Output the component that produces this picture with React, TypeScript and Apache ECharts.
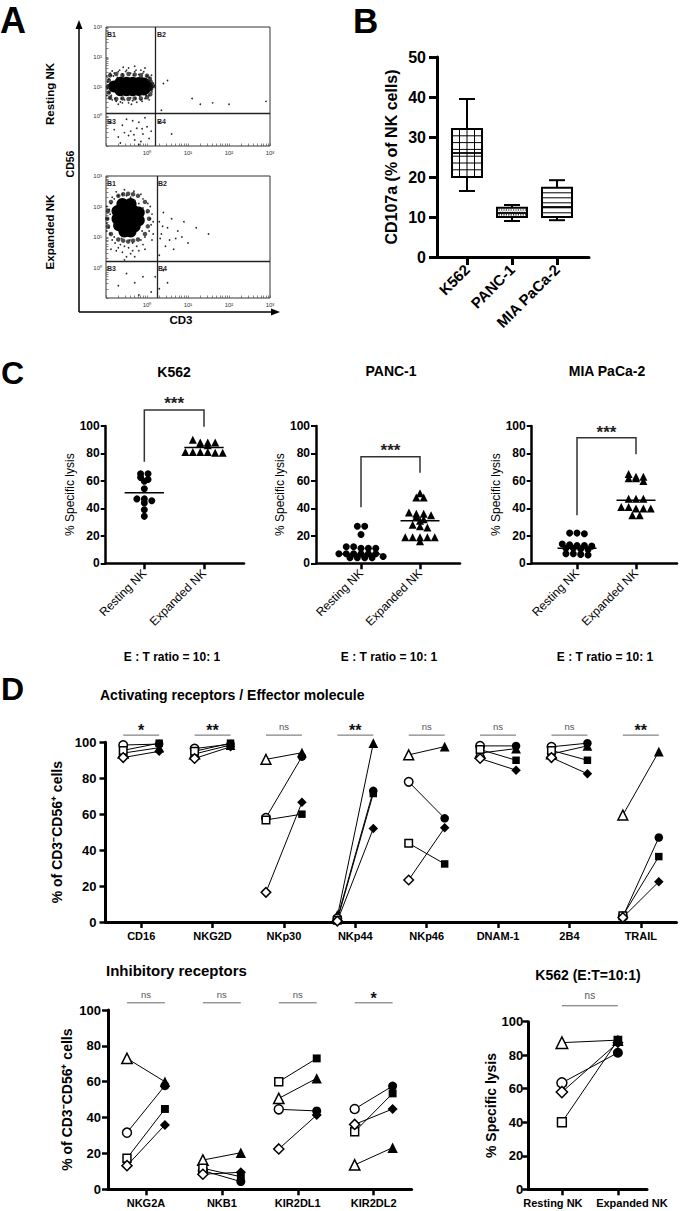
import React, { useEffect, useRef } from 'react';
import * as echarts from 'echarts';

const FONT = '"Liberation Sans", Arial, Helvetica, sans-serif';

// ---------------- Panel A : flow cytometry (log10 units) ----------------
const flowDecades = ['10⁰', '10¹', '10²', '10³'];
const quadrantNames = ['B1', 'B2', 'B3', 'B4'];
const restingGate = [0.2, 0.1];
const expandedGate = [0.24, 0.2];
const restingCore = [
  [-0.8, 1.0], [-0.65, 0.87], [-0.65, 1.13], [-0.5, 0.87], [-0.5, 1.13], [-0.35, 0.87], [-0.35, 1.13],
  [-0.2, 0.88], [-0.2, 1.12], [-0.08, 0.9], [-0.08, 1.1], [0.0, 1.0],
];
const restingEdge = [
  [-0.9, 0.62], [-0.75, 0.58], [-0.6, 0.6], [-0.45, 0.58], [-0.3, 0.6], [-0.15, 0.6], [0.0, 0.64], [0.08, 0.74],
  [-0.9, 1.38], [-0.75, 1.42], [-0.6, 1.38], [-0.45, 1.42], [-0.3, 1.4], [-0.15, 1.38], [0.0, 1.36], [0.07, 1.26],
  [-0.93, 0.8], [-0.95, 1.0], [-0.93, 1.2], [0.1, 0.92], [0.14, 1.04], [0.09, 1.16],
];
const restingEvents = [
  [-0.95, 1.05], [-0.92, 0.8], [-0.93, 1.25], [-0.9, 0.62], [-0.88, 1.38], [-0.85, 0.55], [-0.8, 1.45], [-0.75, 0.5],
  [-0.7, 1.5], [-0.65, 0.48], [-0.6, 1.42], [-0.55, 0.55], [-0.5, 1.55], [-0.45, 0.45], [-0.4, 1.45], [-0.35, 0.52],
  [-0.3, 1.5], [-0.25, 0.47], [-0.2, 1.4], [-0.15, 0.55], [-0.1, 1.45], [-0.05, 0.6], [0.0, 1.35], [0.05, 0.7],
  [0.06, 1.3], [0.12, 0.82], [0.15, 1.12], [0.17, 0.97], [-0.97, 0.95], [-0.96, 1.15], [-0.82, 1.35], [-0.78, 0.6],
  [-0.62, 0.6], [-0.58, 1.35], [-0.33, 1.38], [-0.28, 0.6], [-0.12, 1.3], [-0.02, 0.7], [0.02, 1.2], [-0.9, 1.45],
  [-0.45, 1.62], [-0.7, 0.4], [0.18, 1.02], [-0.15, 1.55], [-0.87, 0.7], [-0.72, 1.3], [-0.4, 0.62], [-0.18, 0.68],
  [-0.52, 1.5], [-0.27, 1.55], [-0.08, 1.5], [-0.67, 1.55], [-0.85, 1.52], [-0.6, 0.45], [-0.38, 0.4], [-0.12, 0.5],
  [0.05, 0.55], [0.11, 1.38], [-0.98, 0.7], [-0.98, 1.35], [-0.05, 1.62], [-0.3, 1.68], [-0.58, 1.65],
  [-0.6, -0.3], [-0.4, -0.5], [-0.2, -0.2], [-0.7, -0.7], [-0.3, -0.8], [-0.1, -0.6], [0.0, -0.35], [-0.5, -0.1],
  [-0.25, -0.4], [-0.8, -0.45], [-0.15, -0.85], [-0.45, -0.65], [0.1, -0.5], [-0.35, -0.15], [-0.05, -0.05],
  [0.05, -0.75], [-0.55, -0.55], [-0.9, -0.2], [-0.65, -0.9], [-0.2, -0.95], [-0.32, -0.62], [-0.12, -0.42],
  [0.4, 1.1], [0.5, 1.2], [1.1, 0.6], [1.3, 0.4], [1.6, 0.45], [2.0, 0.4], [2.9, 0.5], [0.3, -0.2], [0.6, -0.6], [0.35, 0.2],
];
const expandedCore = [
  [-0.6, 2.08], [-0.4, 2.08], [-0.72, 1.85], [-0.52, 1.85], [-0.32, 1.85], [-0.2, 1.8], [-0.72, 1.6], [-0.52, 1.6],
  [-0.32, 1.6], [-0.2, 1.55], [-0.68, 1.38], [-0.48, 1.35], [-0.3, 1.35], [-0.55, 1.18], [-0.4, 1.18],
];
const expandedEdge = [
  [-0.46, 2.42], [-0.7, 2.35], [-0.22, 2.35], [-0.88, 2.15], [-0.05, 2.15], [-0.95, 1.85], [0.02, 1.85],
  [-0.97, 1.6], [0.05, 1.6], [-0.95, 1.35], [0.02, 1.35], [-0.88, 1.1], [-0.05, 1.1], [-0.7, 0.92],
  [-0.22, 0.92], [-0.46, 0.85], [-0.58, 2.4], [-0.34, 2.4], [-0.58, 0.88], [-0.34, 0.88],
];
const expandedEvents = [
  [-0.95, 1.6], [-0.93, 1.3], [-0.92, 1.9], [-0.9, 1.1], [-0.88, 2.1], [-0.85, 0.9], [-0.8, 2.25], [-0.78, 0.8],
  [-0.7, 2.35], [-0.65, 0.75], [-0.6, 2.4], [-0.55, 0.7], [-0.5, 2.35], [-0.45, 0.65], [-0.4, 2.3], [-0.35, 0.8],
  [-0.3, 2.2], [-0.25, 0.7], [-0.2, 2.1], [-0.15, 0.9], [-0.1, 1.95], [-0.05, 1.0], [0.0, 1.8], [0.05, 1.2],
  [0.08, 1.6], [0.1, 1.4], [-0.98, 1.45], [-0.6, 0.5], [-0.4, 0.45], [-0.2, 0.55], [-0.75, 0.55], [-0.3, 0.35],
  [0.15, 1.1], [0.12, 1.75], [-0.05, 0.6], [-0.5, 0.35], [-0.85, 2.3], [0.02, 2.1], [-0.9, 1.75], [-0.12, 1.2],
  [-0.8, 1.0], [-0.1, 2.25], [-0.42, 0.9], [-0.62, 0.95], [-0.55, 2.55], [-0.32, 2.5], [-0.75, 2.48],
  [-0.15, 2.4], [0.08, 2.0], [0.15, 1.5], [-0.98, 2.0], [-0.98, 1.2], [-0.7, 0.65], [-0.1, 0.75], [0.12, 0.9],
  [-0.88, 0.6], [-0.35, 0.55], [-0.55, 0.25],
  [0.3, 1.5], [0.35, 1.1], [0.4, 1.8], [0.5, 1.3], [0.55, 0.9], [0.6, 1.6], [0.75, 1.2], [0.85, 1.0], [0.9, 1.5],
  [1.0, 0.8], [1.2, 1.3], [0.45, 0.7], [0.65, 0.6], [0.3, 0.4], [1.5, 1.1], [0.32, 0.95], [0.38, 1.35], [0.7, 0.95],
  [-0.5, -0.2], [-0.3, -0.5], [-0.1, -0.3], [-0.7, -0.6], [0.1, -0.8], [0.4, -0.1], [0.5, -0.5], [-0.2, -0.9],
  [0.3, -0.7], [0.2, -0.3],
];

// ---------------- Panel B : CD107a box plots ----------------
const bCategories = ['K562', 'PANC-1', 'MIA PaCa-2'];
const bWhiskerLow = [16.5, 9, 9.2];
const bQ1 = [20, 10, 10];
const bMedian = [26, 11, 12.5];
const bQ3 = [32, 12.3, 17.3];
const bWhiskerHigh = [39.5, 13, 19.2];
const bPatterns = ['grid', 'dots', 'hlines'];

// ---------------- Panel C : specific lysis ----------------
const cGroups = ['Resting NK', 'Expanded NK'];
const k562Resting = [62.6, 65.2, 65.2, 59.7, 61, 54.3, 46.9, 46.9, 45.5, 44, 39, 34.2];
const k562Expanded = [88, 88, 87, 86, 88, 90, 81, 80.5, 81, 80.5, 81, 81];
const k562Centers = [51.4, 84.4];
const k562Bracket = [74, 111.7, 99.5, 119];
const panc1Resting = [27, 27, 21, 12, 12, 11, 11, 11, 7, 7, 7, 7, 7, 7, 5, 4, 4, 4, 4];
const panc1Expanded = [51, 48, 48, 37, 36, 36, 35, 34, 32, 31, 28, 27, 26, 19, 19, 19, 19, 19, 16];
const panc1Centers = [6.8, 31];
const panc1Bracket = [40.8, 77.6, 66, 85];
const miaResting = [22, 22, 21.5, 14, 13.5, 13, 13, 12.5, 11, 11, 10.5, 10, 7, 7, 6.5, 6];
const miaExpanded = [63, 62, 62, 65, 63, 60, 47, 47, 47, 41, 40, 40, 40, 41, 35, 35];
const miaCenters = [11, 46];
const miaBracket = [35, 91.5, 79.4, 98.5];

// ---------------- Panel D : receptors ----------------
const actCategories = ['CD16', 'NKG2D', 'NKp30', 'NKp44', 'NKp46', 'DNAM-1', '2B4', 'TRAIL'];
const actSignificance = ['*', '**', 'ns', '**', 'ns', 'ns', 'ns', '**'];
const actRestingTriangle = [94, 93.5, 90.5, 3, 93, 94, 93.5, 59.5];
const actExpandedTriangle = [97, 98.5, 94.2, 99.5, 97.6, 96.5, 98, 94.8];
const actRestingCircle = [98.5, 96.5, 58, 2, 78, 98, 97.5, 3];
const actExpandedCircle = [99, 99, 92, 73, 57.7, 98, 99.5, 47];
const actRestingSquare = [95.5, 95, 56.8, 1, 43.8, 96, 95.5, 3.5];
const actExpandedSquare = [99.5, 99.5, 60, 71.5, 32.3, 90, 90, 36.4];
const actRestingDiamond = [91.5, 91, 16.5, 0.5, 23.4, 91, 91.5, 2.5];
const actExpandedDiamond = [95, 97.5, 66.6, 52, 52.5, 84.5, 82.5, 22.4];

const inhCategories = ['NKG2A', 'NKB1', 'KIR2DL1', 'KIR2DL2'];
const inhSignificance = ['ns', 'ns', 'ns', '*'];
const inhRestingTriangle = [73, 16.3, 50.7, 13.6];
const inhExpandedTriangle = [60, 20.4, 61.9, 23.2];
const inhRestingCircle = [31.6, 10.4, 44.6, 44.8];
const inhExpandedCircle = [57.8, 4.3, 43.7, 57.6];
const inhRestingSquare = [17.3, 11.7, 60, 32.1];
const inhExpandedSquare = [44.8, 7, 73, 53.5];
const inhRestingDiamond = [13.2, 8.4, 22.5, 36.2];
const inhExpandedDiamond = [35.9, 9.5, 41.4, 44.8];

const pairGroups = ['Resting NK', 'Expanded NK'];
const pairSignificance = ['ns'];
const pairRestingTriangle = [87.5];
const pairExpandedTriangle = [89];
const pairRestingCircle = [63.5];
const pairExpandedCircle = [81.5];
const pairRestingSquare = [40];
const pairExpandedSquare = [89];
const pairRestingDiamond = [58];
const pairExpandedDiamond = [87.5];

// ---------------- helpers ----------------
const DONOR_SYMBOLS = ['triangle', 'circle', 'rect', 'diamond'];
const DONOR_SIZE = [1.15, 1.0, 0.88, 1.12];

// log-decade tick positions (major + minor) for the flow axes
const flowTicks: number[] = [];
for (let dec = -1; dec < 3; dec++) {
  for (let m = 1; m < 10; m++) flowTicks.push(dec + Math.log10(m));
}
flowTicks.push(3);

function swarm(values: number[], center: number, binWidth: number, step: number) {
  const order = values.map((_, i) => i).sort((a, b) => values[b] - values[a]);
  const out: number[][] = [];
  let bin: number[] = [];
  let top = Infinity;
  const flush = () => {
    bin.forEach((idx, k) => out.push([center + (k - (bin.length - 1) / 2) * step, values[idx]]));
    bin = [];
  };
  for (const idx of order) {
    if (bin.length && top - values[idx] > binWidth) flush();
    if (!bin.length) top = values[idx];
    bin.push(idx);
  }
  flush();
  return out;
}

const txt = (text: string, x: number, y: number, size: number, opts: any = {}) => ({
  type: 'text',
  x,
  y,
  rotation: opts.rotation || 0,
  silent: true,
  style: {
    text,
    font: `${opts.weight || 'bold'} ${size}px ${FONT}`,
    fill: opts.color || '#000',
    textAlign: opts.align || 'center',
    textVerticalAlign: 'middle',
  },
});

function buildOption() {
  const grids: any[] = [];
  const xAxes: any[] = [];
  const yAxes: any[] = [];
  const series: any[] = [];
  const graphics: any[] = [];

  // ---------- Panel A ----------
  const flowLabel = (v: number) => flowDecades[Math.round(v)] || '';
  const flowPlot = (gi: number, top: number, height: number, core: number[][], edge: number[][], events: number[][], gate: number[]) => {
    grids.push({ left: 106, top, width: 164, height, show: true, borderColor: '#333', borderWidth: 1 });
    const axisBase = () => ({
      gridIndex: gi,
      type: 'value',
      min: -1,
      max: 3,
      axisLine: { show: false, onZero: false },
      axisTick: { show: true, inside: true, customValues: flowTicks, length: 2.5, lineStyle: { color: '#555', width: 0.7 } },
      splitLine: { show: false },
      axisLabel: { customValues: [0, 1, 2, 3], formatter: flowLabel, fontSize: 6, color: '#333', fontFamily: FONT, margin: 4 },
    });
    xAxes.push(axisBase());
    yAxes.push(axisBase());
    series.push({
      type: 'scatter', xAxisIndex: gi, yAxisIndex: gi, silent: true,
      data: core, symbolSize: 12, itemStyle: { color: '#000', opacity: 1 },
    });
    series.push({
      type: 'scatter', xAxisIndex: gi, yAxisIndex: gi, silent: true,
      data: edge, symbolSize: 4.5, itemStyle: { color: '#111', opacity: 0.75 },
    });
    series.push({
      type: 'scatter', xAxisIndex: gi, yAxisIndex: gi, silent: true,
      data: events, symbolSize: 1.7, itemStyle: { color: '#111', opacity: 0.9 },
      markLine: {
        silent: true, symbol: 'none', label: { show: false },
        lineStyle: { color: '#222', width: 1.3, type: 'solid' },
        data: [{ xAxis: gate[0] }, { yAxis: gate[1] }],
      },
    });
  };
  flowPlot(0, 27, 119, restingCore, restingEdge, restingEvents, restingGate);
  flowPlot(1, 176, 122, expandedCore, expandedEdge, expandedEvents, expandedGate);

  graphics.push(txt('A', 0, 20, 36, { align: 'left' }));
  graphics.push(txt('Resting NK', 50, 94, 11.5, { rotation: Math.PI / 2 }));
  graphics.push(txt('Expanded NK', 50, 232, 11.5, { rotation: Math.PI / 2 }));
  graphics.push(txt('CD56', 70, 164, 10.5, { rotation: Math.PI / 2 }));
  graphics.push(txt('CD3', 181, 320, 11.5));
  const qPos = [[107, 34], [157, 34], [107, 121], [157, 121], [107, 183], [158, 183], [107, 268], [158, 268]];
  qPos.forEach((p, i) => graphics.push(txt(quadrantNames[i % 4], p[0], p[1], 7, { align: 'left', color: '#222' })));
  graphics.push({ type: 'line', silent: true, shape: { x1: 79, y1: 312, x2: 79, y2: 27 }, style: { stroke: '#000', lineWidth: 1.5 } });
  graphics.push({ type: 'polygon', silent: true, shape: { points: [[79, 20], [75.5, 29], [82.5, 29]] }, style: { fill: '#000' } });
  graphics.push({ type: 'line', silent: true, shape: { x1: 79, y1: 312, x2: 272, y2: 312 }, style: { stroke: '#000', lineWidth: 1.5 } });
  graphics.push({ type: 'polygon', silent: true, shape: { points: [[280, 312], [271, 308.5], [271, 315.5]] }, style: { fill: '#000' } });

  // ---------- Panel B ----------
  grids.push({ left: 437, top: 57, width: 152, height: 200 });
  xAxes.push({
    gridIndex: 2, type: 'value', min: -0.667, max: 2.711,
    axisLine: { show: true, onZero: false, lineStyle: { color: '#000', width: 3 } },
    axisTick: { show: true, customValues: [0, 1, 2], length: 8, lineStyle: { color: '#000', width: 3 } },
    axisLabel: {
      customValues: [0, 1, 2], formatter: (v: number) => bCategories[Math.round(v)],
      rotate: 45, fontSize: 15, fontWeight: 'bold', color: '#000', fontFamily: FONT, margin: 10,
    },
    splitLine: { show: false },
  });
  yAxes.push({
    gridIndex: 2, type: 'value', min: 0, max: 50, interval: 10,
    axisLine: { show: true, onZero: false, lineStyle: { color: '#000', width: 3 } },
    axisTick: { show: true, length: 8, lineStyle: { color: '#000', width: 3 } },
    axisLabel: { fontSize: 16, fontWeight: 'bold', color: '#000', fontFamily: FONT, margin: 11 },
    splitLine: { show: false },
    name: 'CD107a (% of NK cells)', nameLocation: 'middle', nameGap: 38,
    nameTextStyle: { fontSize: 16, fontWeight: 'bold', color: '#000', fontFamily: FONT },
  });
  series.push({
    type: 'custom', xAxisIndex: 2, yAxisIndex: 2, clip: false, silent: true,
    data: bCategories.map((_, i) => [i, bWhiskerLow[i], bQ1[i], bMedian[i], bQ3[i], bWhiskerHigh[i]]),
    encode: { x: 0, y: [1, 2, 3, 4, 5] },
    renderItem: (params: any, api: any) => {
      const i = api.value(0);
      const lo = api.coord([i, api.value(1)]);
      const q1 = api.coord([i, api.value(2)]);
      const md = api.coord([i, api.value(3)]);
      const q3 = api.coord([i, api.value(4)]);
      const hi = api.coord([i, api.value(5)]);
      const cx = lo[0];
      const hw = 15;
      const cw = 8;
      const st = { stroke: '#000', lineWidth: 2 };
      const ch: any[] = [
        { type: 'line', shape: { x1: cx, y1: hi[1], x2: cx, y2: q3[1] }, style: st },
        { type: 'line', shape: { x1: cx, y1: q1[1], x2: cx, y2: lo[1] }, style: st },
        { type: 'line', shape: { x1: cx - cw, y1: hi[1], x2: cx + cw, y2: hi[1] }, style: st },
        { type: 'line', shape: { x1: cx - cw, y1: lo[1], x2: cx + cw, y2: lo[1] }, style: st },
        { type: 'rect', shape: { x: cx - hw, y: q3[1], width: 2 * hw, height: q1[1] - q3[1] }, style: { fill: '#fff', stroke: '#000', lineWidth: 2 } },
      ];
      const pat = bPatterns[params.dataIndex];
      const thin = { stroke: '#000', lineWidth: 1 };
      if (pat === 'grid') {
        for (let k = 1; k < 4; k++) {
          const x = cx - hw + (k * 2 * hw) / 4;
          ch.push({ type: 'line', shape: { x1: x, y1: q3[1], x2: x, y2: q1[1] }, style: thin });
        }
        for (let y = q3[1] + 6.8; y < q1[1] - 1; y += 6.8) {
          ch.push({ type: 'line', shape: { x1: cx - hw, y1: y, x2: cx + hw, y2: y }, style: thin });
        }
      } else if (pat === 'dots') {
        let row = 0;
        for (let y = q3[1] + 1.6; y < q1[1] - 1.2; y += 2.4, row++) {
          for (let x = cx - hw + 1.6 + (row % 2) * 1.2; x < cx + hw - 1.2; x += 2.4) {
            ch.push({ type: 'rect', shape: { x, y, width: 1.2, height: 1.2 }, style: { fill: '#000' } });
          }
        }
      } else {
        for (let y = q3[1] + 5; y < q1[1] - 1; y += 5) {
          ch.push({ type: 'line', shape: { x1: cx - hw, y1: y, x2: cx + hw, y2: y }, style: thin });
        }
      }
      ch.push({ type: 'line', shape: { x1: cx - hw, y1: md[1], x2: cx + hw, y2: md[1] }, style: { stroke: '#000', lineWidth: 1.8 } });
      return { type: 'group', children: ch };
    },
  });
  graphics.push(txt('B', 353, 20.5, 35, { align: 'left' }));

  // ---------- Panel C ----------
  const cPanel = (gi: number, left: number, width: number, xMin: number, xMax: number, nameGap: number,
    resting: number[], expanded: number[], centers: number[], bracket: number[]) => {
    grids.push({ left, top: 426, width, height: 137.3 });
    xAxes.push({
      gridIndex: gi, type: 'value', min: xMin, max: xMax,
      axisLine: { show: true, onZero: false, lineStyle: { color: '#000', width: 2.5 } },
      axisTick: { show: true, customValues: [0, 1], length: 6, lineStyle: { color: '#000', width: 2.5 } },
      axisLabel: {
        customValues: [0, 1], formatter: (v: number) => cGroups[Math.round(v)],
        rotate: 45, fontSize: 12, color: '#000', fontFamily: FONT, margin: 8,
      },
      splitLine: { show: false },
    });
    yAxes.push({
      gridIndex: gi, type: 'value', min: 0, max: 100, interval: 20,
      axisLine: { show: true, onZero: false, lineStyle: { color: '#000', width: 2.5 } },
      axisTick: { show: true, length: 5, lineStyle: { color: '#000', width: 2 } },
      axisLabel: { fontSize: 12, fontWeight: 'bold', color: '#000', fontFamily: FONT, margin: 6 },
      splitLine: { show: false },
      name: '% Specific lysis', nameLocation: 'middle', nameGap,
      nameTextStyle: { fontSize: 12, color: '#000', fontFamily: FONT },
    });
    series.push({
      type: 'scatter', xAxisIndex: gi, yAxisIndex: gi, silent: true,
      data: swarm(resting, 0, 2.5, 0.125), symbol: 'circle', symbolSize: 7, itemStyle: { color: '#000', opacity: 1 },
    });
    series.push({
      type: 'scatter', xAxisIndex: gi, yAxisIndex: gi, silent: true,
      data: swarm(expanded, 1, 2.5, 0.125), symbol: 'triangle', symbolSize: 8, itemStyle: { color: '#000', opacity: 1 },
    });
    series.push({
      type: 'custom', xAxisIndex: gi, yAxisIndex: gi, clip: false, silent: true,
      data: centers.map((c, i) => [i, c]),
      encode: { x: 0, y: 1 },
      renderItem: (_p: any, api: any) => {
        const a = api.coord([api.value(0) - 0.33, api.value(1)]);
        const b = api.coord([api.value(0) + 0.33, api.value(1)]);
        return { type: 'line', shape: { x1: a[0], y1: a[1], x2: b[0], y2: b[1] }, style: { stroke: '#000', lineWidth: 1.5 } };
      },
    });
    series.push({
      type: 'custom', xAxisIndex: gi, yAxisIndex: gi, clip: false, silent: true,
      data: [bracket],
      encode: { x: [], y: [0, 1, 2, 3] },
      renderItem: (_p: any, api: any) => {
        const p0 = api.coord([0, api.value(0)]);
        const p1 = api.coord([0, api.value(1)]);
        const p2 = api.coord([1, api.value(1)]);
        const p3 = api.coord([1, api.value(2)]);
        const t = api.coord([0.5, api.value(3)]);
        return {
          type: 'group',
          children: [
            { type: 'polyline', shape: { points: [p0, p1, p2, p3] }, style: { stroke: '#333', lineWidth: 1.5, fill: null } },
            { type: 'text', x: t[0], y: t[1] + 4, style: { text: '***', font: `bold 17px ${FONT}`, fill: '#222', textAlign: 'center', textVerticalAlign: 'middle' } },
          ],
        };
      },
    });
  };
  cPanel(3, 105.7, 138.3, -0.647, 1.67, 29, k562Resting, k562Expanded, k562Centers, k562Bracket);
  cPanel(4, 316, 144, -0.763, 1.678, 24, panc1Resting, panc1Expanded, panc1Centers, panc1Bracket);
  cPanel(5, 531.7, 145.3, -0.768, 1.695, 23, miaResting, miaExpanded, miaCenters, miaBracket);
  graphics.push(txt('C', 1, 373, 32, { align: 'left' }));
  graphics.push(txt('K562', 174, 372, 14));
  graphics.push(txt('PANC-1', 391, 371, 14));
  graphics.push(txt('MIA PaCa-2', 607, 371, 14));
  graphics.push(txt('E : T ratio = 10: 1', 172, 657, 12));
  graphics.push(txt('E : T ratio = 10: 1', 389, 657, 12));
  graphics.push(txt('E : T ratio = 10: 1', 605, 657, 12));

  // ---------- Panel D ----------
  const pairPanel = (cfg: any) => {
    const gi = cfg.gi;
    grids.push(cfg.grid);
    xAxes.push({
      gridIndex: gi, type: 'value', min: cfg.xMin, max: cfg.xMax,
      axisLine: { show: true, onZero: false, lineStyle: { color: '#000', width: 3 } },
      axisTick: { show: true, customValues: cfg.tickValues, length: 6, lineStyle: { color: '#000', width: 2.5 } },
      axisLabel: {
        customValues: cfg.tickValues, formatter: cfg.labelFormatter, rich: cfg.rich,
        fontSize: 11, fontWeight: 'bold', color: '#000', fontFamily: FONT, margin: 8,
      },
      splitLine: { show: false },
    });
    yAxes.push({
      gridIndex: gi, type: 'value', min: 0, max: 100, interval: 20,
      axisLine: { show: true, onZero: false, lineStyle: { color: '#000', width: 3 } },
      axisTick: { show: true, length: 6, lineStyle: { color: '#000', width: 2.5 } },
      axisLabel: { fontSize: 13, fontWeight: 'bold', color: '#000', fontFamily: FONT, margin: cfg.labelMargin },
      splitLine: { show: false },
      name: cfg.yName, nameLocation: 'middle', nameGap: cfg.nameGap,
      nameTextStyle: { fontSize: 14, fontWeight: 'bold', color: '#000', fontFamily: FONT },
    });
    const off = cfg.off;
    const conn: number[][] = [];
    cfg.centers.forEach((c: number, ci: number) => {
      for (let d = 0; d < 4; d++) conn.push([c, cfg.rest[d][ci], cfg.exp[d][ci]]);
    });
    series.push({
      type: 'custom', xAxisIndex: gi, yAxisIndex: gi, clip: false, silent: true, z: 2,
      data: conn, encode: { x: 0, y: [1, 2] },
      renderItem: (_p: any, api: any) => {
        const a = api.coord([api.value(0) - off, api.value(1)]);
        const b = api.coord([api.value(0) + off, api.value(2)]);
        return { type: 'line', shape: { x1: a[0], y1: a[1], x2: b[0], y2: b[1] }, style: { stroke: '#000', lineWidth: 1 } };
      },
    });
    for (let d = 0; d < 4; d++) {
      const size = cfg.symbolSize * DONOR_SIZE[d];
      series.push({
        type: 'scatter', xAxisIndex: gi, yAxisIndex: gi, silent: true, z: 3,
        data: cfg.centers.map((c: number, ci: number) => [c - off, cfg.rest[d][ci]]),
        symbol: DONOR_SYMBOLS[d], symbolSize: size,
        itemStyle: { color: '#fff', borderColor: '#000', borderWidth: 1.5, opacity: 1 },
      });
      series.push({
        type: 'scatter', xAxisIndex: gi, yAxisIndex: gi, silent: true, z: 3,
        data: cfg.centers.map((c: number, ci: number) => [c + off, cfg.exp[d][ci]]),
        symbol: DONOR_SYMBOLS[d], symbolSize: size,
        itemStyle: { color: '#000', opacity: 1 },
      });
    }
    series.push({
      type: 'custom', xAxisIndex: gi, yAxisIndex: gi, clip: false, silent: true, z: 2,
      data: cfg.centers.map((c: number) => [c, cfg.sigLineY, cfg.sigTextY]),
      encode: { x: 0, y: [1, 2] },
      renderItem: (params: any, api: any) => {
        const c = api.value(0);
        const a = api.coord([c - off, api.value(1)]);
        const b = api.coord([c + off, api.value(1)]);
        const t = api.coord([c, api.value(2)]);
        const s = cfg.sig[params.dataIndex];
        const ns = s === 'ns';
        return {
          type: 'group',
          children: [
            { type: 'line', shape: { x1: a[0], y1: a[1], x2: b[0], y2: b[1] }, style: { stroke: '#666', lineWidth: 1 } },
            {
              type: 'text', x: t[0], y: t[1] + (ns ? 0 : 4),
              style: {
                text: s, font: ns ? `${cfg.nsSize}px ${FONT}` : `bold 16px ${FONT}`,
                fill: ns ? '#555' : '#111', textAlign: 'center', textVerticalAlign: 'middle',
              },
            },
          ],
        };
      },
    });
  };

  pairPanel({
    gi: 6, grid: { left: 105.5, top: 742.3, width: 571, height: 179.7 },
    xMin: -0.5, xMax: 7.5, tickValues: actCategories.map((_, i) => i),
    labelFormatter: (v: number) => actCategories[Math.round(v)],
    centers: actCategories.map((_, i) => i), off: 0.252,
    rest: [actRestingTriangle, actRestingCircle, actRestingSquare, actRestingDiamond],
    exp: [actExpandedTriangle, actExpandedCircle, actExpandedSquare, actExpandedDiamond],
    sig: actSignificance, sigLineY: 104, sigTextY: 108.7, symbolSize: 8.5, nsSize: 9.5,
    yName: '% of CD3⁻CD56⁺ cells', nameGap: 31, labelMargin: 9,
  });
  pairPanel({
    gi: 7, grid: { left: 108, top: 1010, width: 303.6, height: 179.3 },
    xMin: -0.5, xMax: 3.5, tickValues: inhCategories.map((_, i) => i),
    labelFormatter: (v: number) => inhCategories[Math.round(v)],
    centers: inhCategories.map((_, i) => i), off: 0.25,
    rest: [inhRestingTriangle, inhRestingCircle, inhRestingSquare, inhRestingDiamond],
    exp: [inhExpandedTriangle, inhExpandedCircle, inhExpandedSquare, inhExpandedDiamond],
    sig: inhSignificance, sigLineY: 104, sigTextY: 108.4, symbolSize: 9, nsSize: 9.5,
    yName: '% of CD3⁻CD56⁺ cells', nameGap: 34, labelMargin: 7,
  });
  pairPanel({
    gi: 8, grid: { left: 528.3, top: 1021.7, width: 118.7, height: 167.6 },
    xMin: -0.6, xMax: 1.52, tickValues: [0, 1],
    labelFormatter: (v: number) => (Math.round(v) === 0 ? `{a|${pairGroups[0]}}` : `{b|${pairGroups[1]}}`),
    rich: {
      a: { fontSize: 11, fontWeight: 'bold', fontFamily: FONT, color: '#000', padding: [0, 18, 0, 0] },
      b: { fontSize: 11, fontWeight: 'bold', fontFamily: FONT, color: '#000', padding: [0, 0, 0, 28] },
    },
    centers: [0.5], off: 0.5,
    rest: [pairRestingTriangle, pairRestingCircle, pairRestingSquare, pairRestingDiamond],
    exp: [pairExpandedTriangle, pairExpandedCircle, pairExpandedSquare, pairExpandedDiamond],
    sig: pairSignificance, sigLineY: 109.5, sigTextY: 115.5, symbolSize: 10, nsSize: 10,
    yName: '% Specific lysis', nameGap: 28, labelMargin: 5,
  });
  graphics.push(txt('D', 1, 689, 32, { align: 'left' }));
  graphics.push(txt('Activating receptors / Effector molecule', 100, 695, 14, { align: 'left' }));
  graphics.push(txt('Inhibitory receptors', 106, 970, 15, { align: 'left' }));
  graphics.push(txt('K562 (E:T=10:1)', 588, 975, 14));

  return {
    animation: false,
    backgroundColor: '#fff',
    textStyle: { fontFamily: FONT },
    grid: grids,
    xAxis: xAxes,
    yAxis: yAxes,
    series,
    graphic: { elements: graphics },
  };
}

export default function App() {
  const ref = useRef<HTMLDivElement>(null);
  useEffect(() => {
    const chart = echarts.init(ref.current as HTMLDivElement, null, { renderer: 'svg' });
    chart.setOption(buildOption() as any);
    return () => chart.dispose();
  }, []);
  return (
    <div
      ref={ref}
      style={{ position: 'absolute', left: 0, top: 0, width: 680, height: 1211, background: '#fff' }}
    />
  );
}
